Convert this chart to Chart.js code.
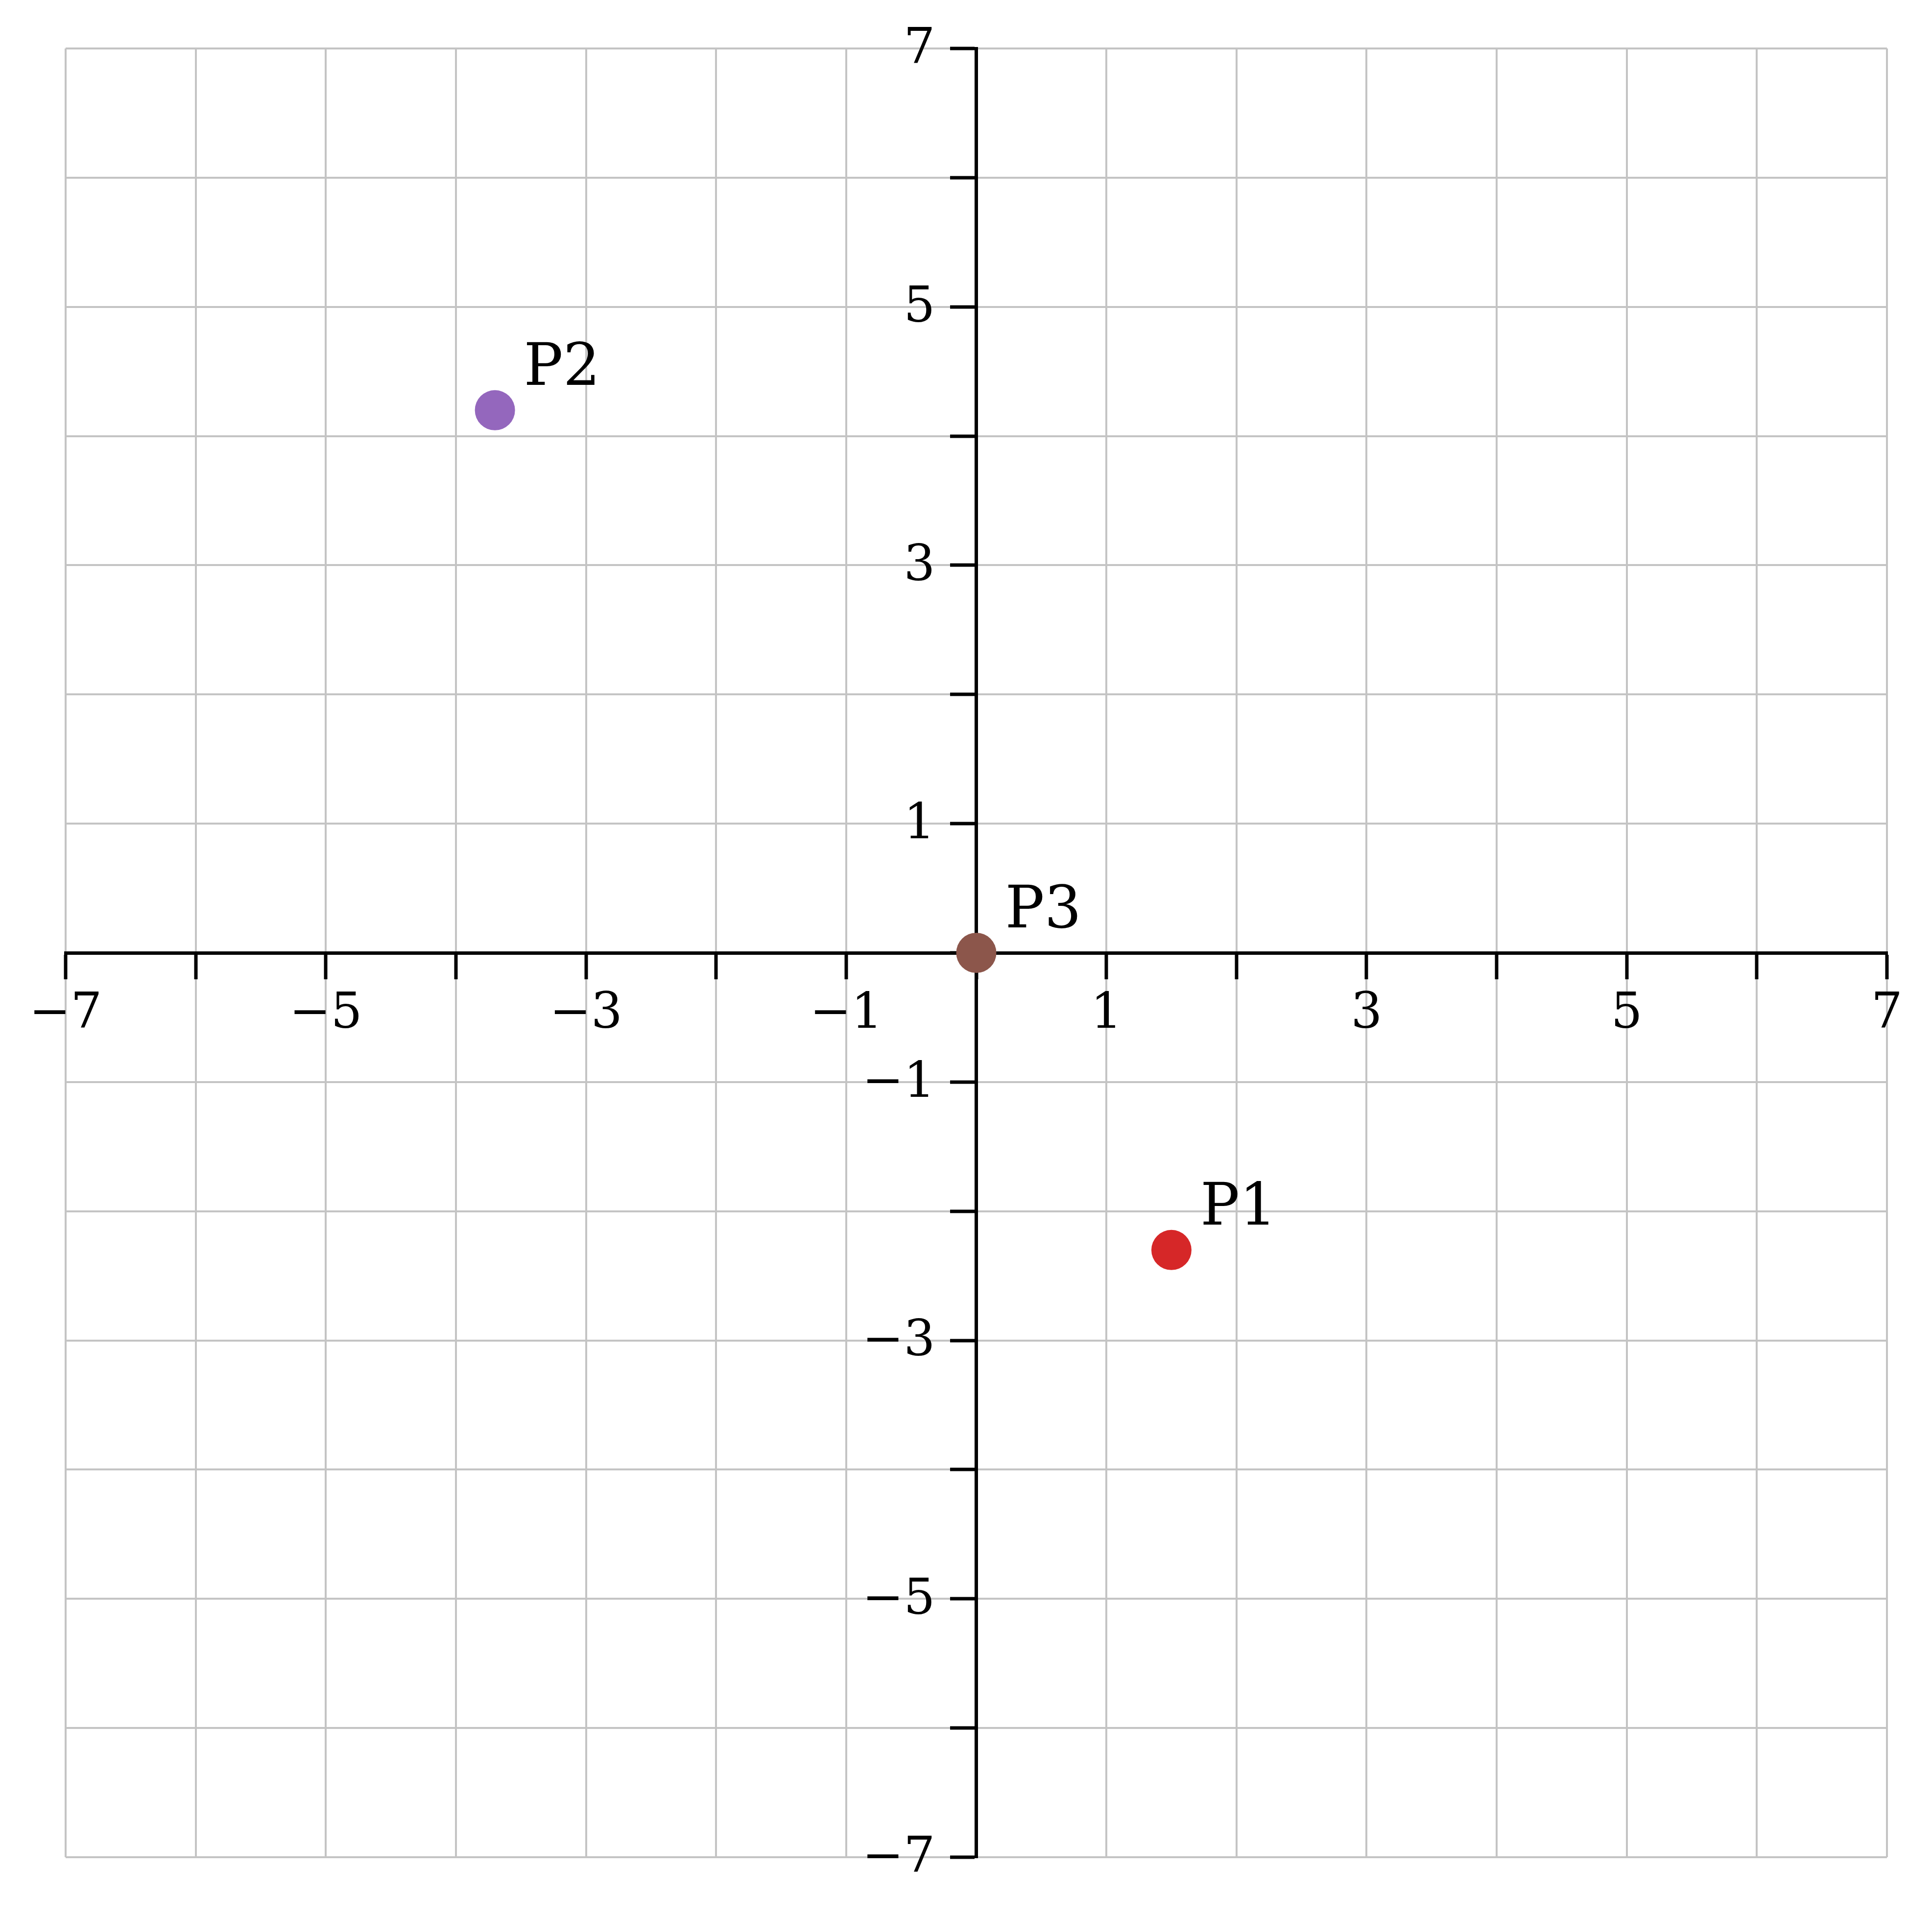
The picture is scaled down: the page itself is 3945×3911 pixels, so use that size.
<!DOCTYPE html>
<html lang="en">
<head>
  <meta charset="UTF-8" />
  <title>Points P1 P2 P3</title>
  <style>
    html, body {
      margin: 0;
      padding: 0;
      background: #fff;
    }
    #chart {
      display: block;
    }
  </style>
</head>
<body>
  <canvas id="chart" width="3945" height="3911" style="width:3945px;height:3911px;"></canvas>

  <script src="https://cdn.jsdelivr.net/npm/chart.js"></script>
  <script>
    // data
    const pointNames = ["P1", "P2", "P3"];
    const xValues = [1.5, -3.7, 0];
    const yValues = [-2.3, 4.2, 0];
    const pointColors = ["#d62728", "#9467bd", "#8c564b"];
    const labelledTicks = [-7, -5, -3, -1, 1, 3, 5, 7];
    const axisMin = -7;
    const axisMax = 7;

    const serif = "'DejaVu Serif', 'Liberation Serif', serif";
    const tickLen = 50;
    const yLabelGap = 34;

    function tickText(v) {
      if (!labelledTicks.includes(v)) return "";
      return v < 0 ? "\u2212" + Math.abs(v) : String(v);
    }

    // a centred y axis puts its labels right on the spine; push them left of the ticks
    const yLabelShift = {
      id: "yLabelShift",
      beforeDraw(chart) {
        const items = chart.scales.y.getLabelItems(chart.chartArea);
        items.forEach((it) => {
          if (it._shifted) return;
          it.options.translation[0] -= tickLen + yLabelGap;
          it.options.translation[1] += 4;
          it._shifted = true;
        });
      }
    };

    // writes P1, P2, P3 next to their dots
    const pointNamesPlugin = {
      id: "pointNames",
      afterDatasetsDraw(chart) {
        const ctx = chart.ctx;
        const xs = chart.scales.x;
        const ys = chart.scales.y;
        ctx.save();
        ctx.font = "119px " + serif;
        ctx.fillStyle = "#000";
        ctx.textAlign = "left";
        ctx.textBaseline = "alphabetic";
        pointNames.forEach((name, i) => {
          const px = xs.getPixelForValue(xValues[i]);
          const py = ys.getPixelForValue(yValues[i]);
          ctx.fillText(name, px + 59, py - 52);
        });
        ctx.restore();
      }
    };

    function axisOptions(otherAxis, pad) {
      const pos = {};
      pos[otherAxis] = 0;
      return {
        type: "linear",
        position: pos,
        min: axisMin,
        max: axisMax,
        grid: {
          color: "#c4c4c4",
          lineWidth: 4,
          drawTicks: true,
          tickLength: tickLen,
          tickColor: "#000",
          tickWidth: 7
        },
        border: {
          display: true,
          color: "#000",
          width: 7
        },
        ticks: {
          stepSize: 1,
          autoSkip: false,
          maxRotation: 0,
          padding: pad,
          color: "#000",
          font: { family: serif, size: 101 },
          callback: (v) => tickText(v)
        }
      };
    }

    const ctx = document.getElementById("chart").getContext("2d");
    new Chart(ctx, {
      type: "scatter",
      data: {
        datasets: [{
          data: xValues.map((x, i) => ({ x: x, y: yValues[i] })),
          backgroundColor: pointColors,
          borderWidth: 0,
          pointRadius: 41,
          pointHoverRadius: 41
        }]
      },
      options: {
        responsive: false,
        animation: false,
        events: [],
        layout: {
          padding: { left: 134, top: 99, right: 92, bottom: 118 }
        },
        plugins: {
          legend: { display: false },
          tooltip: { enabled: false }
        },
        scales: {
          x: axisOptions("y", 16),
          y: axisOptions("x", 0)
        }
      },
      plugins: [yLabelShift, pointNamesPlugin]
    });
  </script>
</body>
</html>
